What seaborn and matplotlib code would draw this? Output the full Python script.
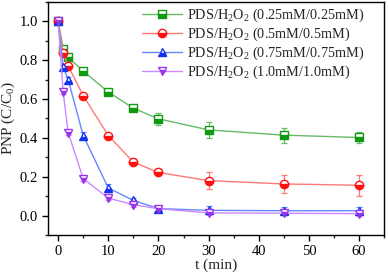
import numpy as np
import pandas as pd
import matplotlib
matplotlib.use("Agg")
import matplotlib.pyplot as plt
from matplotlib.ticker import MultipleLocator
import seaborn as sns

t = [0, 1, 2, 5, 10, 15, 20, 30, 45, 60]
labels = ["PDS/H$_2$O$_2$ (0.25mM/0.25mM)",
          "PDS/H$_2$O$_2$ (0.5mM/0.5mM)",
          "PDS/H$_2$O$_2$ (0.75mM/0.75mM)",
          "PDS/H$_2$O$_2$ (1.0mM/1.0mM)"]
green = [1.0, 0.86, 0.815, 0.744, 0.636, 0.553, 0.498, 0.441, 0.414, 0.402]
red = [1.0, 0.838, 0.77, 0.617, 0.412, 0.275, 0.222, 0.18, 0.163, 0.156]
blue = [1.0, 0.765, 0.70, 0.412, 0.142, 0.078, 0.036, 0.027, 0.025, 0.025]
purple = [1.0, 0.636, 0.427, 0.19, 0.09, 0.056, 0.035, 0.014, 0.012, 0.01]
green_err = [0.01, 0.01, 0.01, 0.01, 0.01, 0.01, 0.03, 0.043, 0.038, 0.026]
red_err = [0.01, 0.01, 0.01, 0.01, 0.01, 0.01, 0.01, 0.044, 0.047, 0.055]
blue_err = [0.01, 0.01, 0.015, 0.02, 0.02, 0.01, 0.01, 0.02, 0.02, 0.02]
purple_err = [0.01, 0.01, 0.01, 0.01, 0.01, 0.01, 0.01, 0.01, 0.01, 0.01]

sns.set_style("ticks")
plt.rcParams['font.family'] = ['Liberation Serif', 'DejaVu Serif']
plt.rcParams['mathtext.fontset'] = 'custom'
plt.rcParams['mathtext.rm'] = 'Liberation Serif'
plt.rcParams['mathtext.it'] = 'Liberation Serif:italic'

fig = plt.figure(figsize=(3.88, 2.72), dpi=100)
ax = fig.add_axes([0.124, 0.136, 0.866, 0.857])

series = [
    (green, green_err, 's', '#119911', '#66bb66', 5.2),
    (red, red_err, 'o', '#ff1111', '#ff7777', 6.0),
    (blue, blue_err, '^', '#1133ee', '#6688ff', 6.0),
    (purple, purple_err, 'v', '#9933ee', '#cc88ff', 6.0),
]
for (vals, errs, mk, mc, lc, ms), lab in zip(series, labels):
    df = pd.DataFrame({'t': t, 'v': vals})
    ax.errorbar(t, vals, yerr=errs, fmt='none', ecolor=lc, elinewidth=0.9,
                capsize=2.5, capthick=0.9, zorder=2)
    sns.lineplot(data=df, x='t', y='v', ax=ax, color=lc, linewidth=1.0,
                 marker=mk, markersize=ms, markeredgecolor=mc,
                 markerfacecolor=mc, markerfacecoloralt='white',
                 fillstyle='bottom', markeredgewidth=1.0, label=lab, zorder=3)

ax.set_xlim(-2, 65)
ax.set_ylim(-0.1, 1.1)
ax.xaxis.set_major_locator(MultipleLocator(10))
ax.xaxis.set_minor_locator(MultipleLocator(5))
ax.yaxis.set_major_locator(MultipleLocator(0.2))
ax.yaxis.set_minor_locator(MultipleLocator(0.1))
ax.set_yticks([0.0, 0.2, 0.4, 0.6, 0.8, 1.0])
ax.set_yticklabels(['0.0', '0.2', '0.4', '0.6', '0.8', '1.0'])
ax.tick_params(which='major', direction='out', length=4, width=1, labelsize=10.5, colors='black')
ax.tick_params(which='minor', direction='out', length=2.5, width=1)
for s in ax.spines.values():
    s.set_visible(True)
    s.set_linewidth(1.0)
    s.set_color('black')
ax.set_xlabel('t (min)', fontsize=11, labelpad=0)
ax.set_ylabel('PNP (C/C$_0$)', fontsize=11, labelpad=2)

leg = ax.legend(loc='upper right', bbox_to_anchor=(0.955, 1.0), frameon=False,
                fontsize=10.3, handlelength=2.8, labelspacing=0.12,
                borderaxespad=0.15, handletextpad=0.3, borderpad=0.2)
fig.savefig('out.png', dpi=100)
